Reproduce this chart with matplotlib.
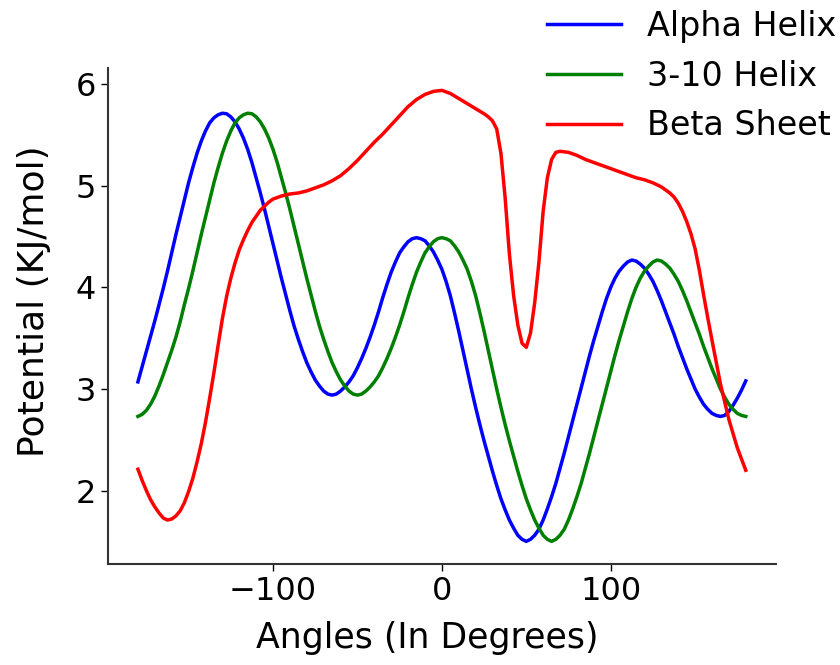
import matplotlib
matplotlib.use("Agg")
import matplotlib.pyplot as plt

# Angles (degrees) for the helix curves, every 2.5 degrees
helix_angles = [a / 2 for a in range(-360, 361, 5)]

alpha_helix = [
    3.07, 3.22, 3.37, 3.52, 3.67, 3.83, 3.99, 4.16, 4.34, 4.52, 4.69, 4.86,
    5.03, 5.18, 5.32, 5.44, 5.54, 5.62, 5.67, 5.70, 5.715, 5.71, 5.68, 5.63,
    5.56, 5.47, 5.36, 5.23, 5.08, 4.93, 4.77, 4.60, 4.43, 4.26, 4.09, 3.93,
    3.77, 3.62, 3.49, 3.37, 3.26, 3.17, 3.09, 3.03, 2.98, 2.95, 2.94, 2.95,
    2.98, 3.02, 3.07, 3.13, 3.21, 3.30, 3.40, 3.51, 3.63, 3.76, 3.90, 4.03,
    4.15, 4.25, 4.34, 4.40, 4.45, 4.48, 4.49, 4.48, 4.46, 4.41, 4.35, 4.27,
    4.18, 4.06, 3.92, 3.75, 3.57, 3.38, 3.19, 3.00, 2.82, 2.65, 2.49, 2.34,
    2.19, 2.05, 1.92, 1.81, 1.71, 1.63, 1.56, 1.52, 1.50, 1.52, 1.56, 1.62,
    1.71, 1.82, 1.94, 2.07, 2.22, 2.37, 2.53, 2.69, 2.85, 3.01, 3.17, 3.33,
    3.48, 3.62, 3.76, 3.89, 4.00, 4.09, 4.16, 4.21, 4.25, 4.27, 4.26, 4.23,
    4.19, 4.13, 4.06, 3.97, 3.87, 3.76, 3.65, 3.54, 3.42, 3.31, 3.20, 3.10,
    3.00, 2.92, 2.85, 2.80, 2.76, 2.74, 2.73, 2.74, 2.78, 2.84, 2.91, 2.99,
    3.08]

helix_310 = [
    2.73, 2.75, 2.79, 2.85, 2.93, 3.03, 3.14, 3.26, 3.38, 3.51, 3.66, 3.83,
    3.99, 4.16, 4.34, 4.52, 4.69, 4.86, 5.03, 5.18, 5.32, 5.44, 5.54, 5.62,
    5.67, 5.70, 5.715, 5.71, 5.68, 5.63, 5.56, 5.47, 5.36, 5.23, 5.08, 4.93,
    4.77, 4.60, 4.43, 4.26, 4.09, 3.93, 3.77, 3.62, 3.49, 3.37, 3.26, 3.17,
    3.09, 3.03, 2.98, 2.95, 2.94, 2.95, 2.98, 3.02, 3.07, 3.13, 3.21, 3.30,
    3.40, 3.51, 3.63, 3.76, 3.90, 4.03, 4.15, 4.25, 4.34, 4.40, 4.45, 4.48,
    4.49, 4.48, 4.46, 4.41, 4.35, 4.27, 4.18, 4.06, 3.92, 3.75, 3.57, 3.38,
    3.19, 3.00, 2.82, 2.65, 2.49, 2.34, 2.19, 2.05, 1.92, 1.81, 1.71, 1.63,
    1.56, 1.52, 1.50, 1.52, 1.56, 1.62, 1.71, 1.82, 1.94, 2.07, 2.22, 2.37,
    2.53, 2.69, 2.85, 3.01, 3.17, 3.33, 3.48, 3.62, 3.76, 3.89, 4.00, 4.09,
    4.16, 4.21, 4.25, 4.27, 4.26, 4.23, 4.19, 4.13, 4.06, 3.97, 3.87, 3.76,
    3.65, 3.54, 3.42, 3.31, 3.20, 3.10, 3.00, 2.92, 2.85, 2.80, 2.76, 2.74,
    2.73]

# Beta sheet: denser sampling where the curve bends sharply
beta_angles = [
    -180, -177.5, -175, -172.5, -170, -167.5, -165, -162.5, -160, -157.5,
    -155, -152.5, -150, -147.5, -145, -142.5, -140, -137.5, -135, -132.5,
    -130, -127.5, -125, -122.5, -120, -117.5, -115, -112.5, -110, -107.5,
    -105, -102.5, -100, -95, -90, -85, -80, -75, -70, -65, -60, -55, -50,
    -45, -40, -35, -30, -25, -20, -15, -10, -5, 0, 5, 10, 15, 20, 25,
    27.5, 30, 32.5, 35, 37.5, 40, 42.5, 45, 47.5, 50, 52.5, 55, 57.5, 60,
    62.5, 65, 67.5, 70, 75, 80, 85, 90, 95, 100, 105, 110, 115, 120, 125,
    130, 132.5, 135, 137.5, 140, 142.5, 145, 147.5, 150, 152.5, 155, 157.5,
    160, 165, 170, 175, 180]

beta_sheet = [
    2.21, 2.10, 2.00, 1.91, 1.84, 1.78, 1.73, 1.71, 1.72, 1.75,
    1.80, 1.88, 1.99, 2.12, 2.28, 2.46, 2.67, 2.91, 3.16, 3.43,
    3.69, 3.91, 4.09, 4.24, 4.37, 4.47, 4.56, 4.64, 4.70, 4.76,
    4.80, 4.84, 4.87, 4.90, 4.92, 4.93, 4.95, 4.98, 5.01, 5.05, 5.10, 5.17, 5.25,
    5.34, 5.43, 5.51, 5.60, 5.69, 5.78, 5.85, 5.90, 5.93, 5.94, 5.91, 5.86, 5.81, 5.76, 5.71,
    5.68, 5.64, 5.56, 5.32, 4.88, 4.33, 3.92, 3.63, 3.45, 3.41, 3.55, 3.85, 4.25, 4.75,
    5.08, 5.26, 5.33, 5.34, 5.33, 5.30, 5.26, 5.23, 5.20, 5.17, 5.14, 5.11, 5.08, 5.06, 5.03,
    4.99, 4.96, 4.93, 4.89, 4.83, 4.75, 4.65, 4.53, 4.38, 4.17, 3.93, 3.70,
    3.48, 3.05, 2.70, 2.42, 2.20]

series_labels = ["Alpha Helix", "3-10 Helix", "Beta Sheet"]
series_colors = ["blue", "green", "red"]

x_ticks = [-100, 0, 100]
y_ticks = [2, 3, 4, 5, 6]

fig = plt.figure(figsize=(8.4, 6.65), dpi=100)
ax = fig.add_axes([0.128, 0.152, 0.796, 0.746])

ax.plot(helix_angles, alpha_helix, color=series_colors[0], lw=2.5, label=series_labels[0])
ax.plot(helix_angles, helix_310, color=series_colors[1], lw=2.5, label=series_labels[1])
ax.plot(beta_angles, beta_sheet, color=series_colors[2], lw=2.5, label=series_labels[2])

ax.set_xticks(x_ticks)
ax.set_yticks(y_ticks)
ax.tick_params(labelsize=23, length=5, width=1, colors="black")
for s in ["top", "right"]:
    ax.spines[s].set_visible(False)
for s in ["left", "bottom"]:
    ax.spines[s].set_color("#333333")
    ax.spines[s].set_linewidth(1.5)

ax.set_xlabel("Angles (In Degrees)", fontsize=25)
ax.set_ylabel("Potential (KJ/mol)", fontsize=26)
ax.xaxis.set_label_coords(0.478, -0.115)
ax.yaxis.set_label_coords(-0.085, 0.53)

leg = fig.legend(loc="upper right", bbox_to_anchor=(1.008, 1.0),
                 frameon=False, fontsize=24,
                 handlelength=2.2, handletextpad=0.8, labelspacing=0.5,
                 borderpad=0.3, borderaxespad=0.0)

fig.savefig("out.png", dpi=100)
